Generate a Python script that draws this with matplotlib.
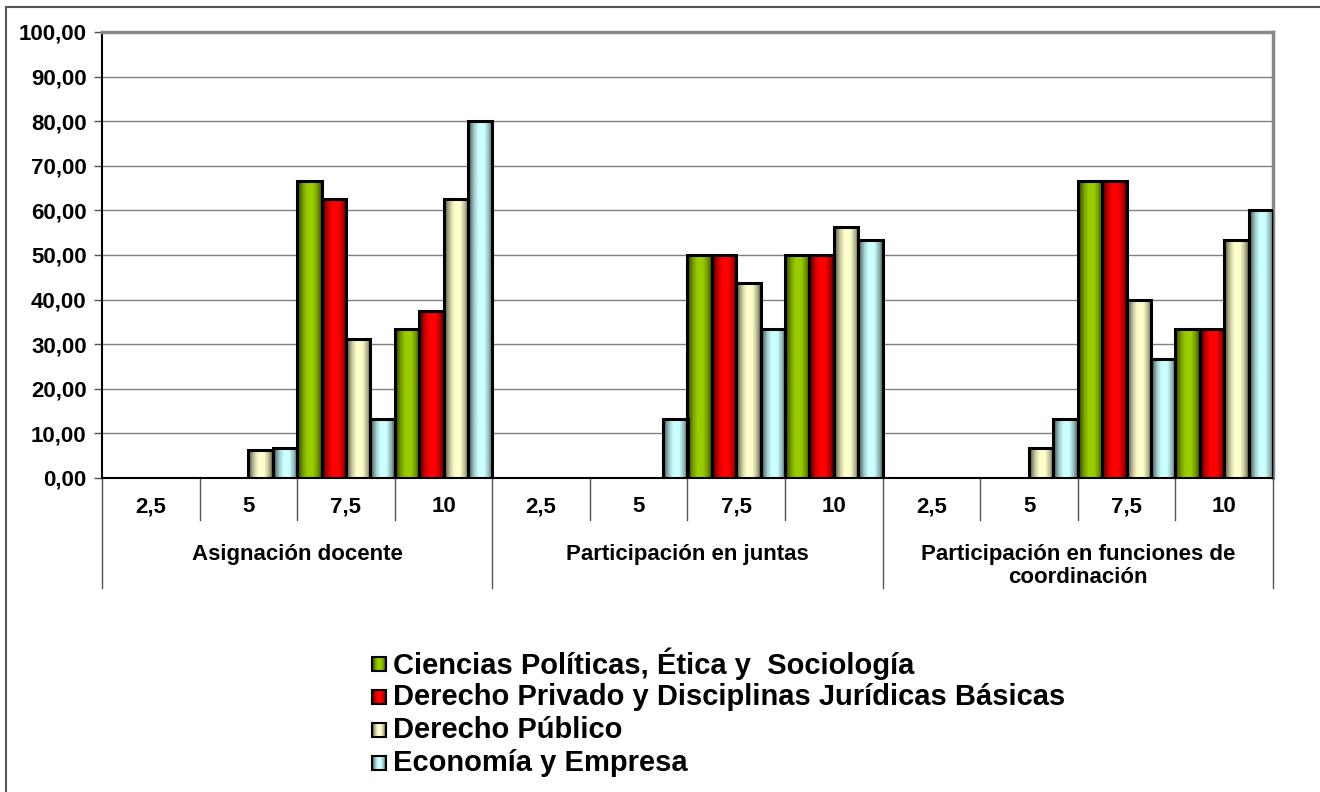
import numpy as np
import matplotlib.pyplot as plt
from matplotlib.colors import LinearSegmentedColormap, to_rgb
from matplotlib.patches import Rectangle
from matplotlib.lines import Line2D
import matplotlib.transforms as mtransforms

plt.rcParams['font.family'] = ['Liberation Sans', 'DejaVu Sans']
plt.rcParams['font.weight'] = 'bold'

# data
groups = ['Asignación docente', 'Participación en juntas',
          'Participación en funciones de\ncoordinación']
scores = ['2,5', '5', '7,5', '10']
series = ['Ciencias Políticas, Ética y  Sociología',
          'Derecho Privado y Disciplinas Jurídicas Básicas',
          'Derecho Público',
          'Economía y Empresa']
colors = ['#99CC00', '#FF0000', '#FFFFCC', '#CCFFFF']

ciencias = [0, 0, 66.67, 33.33,   0, 0, 50.00, 50.00,   0, 0, 66.67, 33.33]
privado  = [0, 0, 62.50, 37.50,   0, 0, 50.00, 50.00,   0, 0, 66.67, 33.33]
publico  = [0, 6.25, 31.25, 62.50, 0, 0, 43.75, 56.25,  0, 6.67, 40.00, 53.33]
economia = [0, 6.67, 13.33, 80.00, 0, 13.33, 33.33, 53.33, 0, 13.33, 26.67, 60.00]
values = [ciencias, privado, publico, economia]


def shade_cmap(c):
	# darker edges, bright middle (like the excel "tube" fill)
	r = np.array(to_rgb(c))
	return LinearSegmentedColormap.from_list(
		'g', [(0, r * 0.3), (0.1, r * 0.5), (0.25, r * 0.8), (0.42, r),
		      (0.65, r), (0.85, r * 0.72), (1, r * 0.35)])


fig = plt.figure(figsize=(13.2, 7.92), dpi=100)
ax = fig.add_axes([102 / 1320, 1 - 478 / 792, 1171 / 1320, 446 / 792])

ncat = len(groups) * len(scores)
x = np.arange(ncat)
w = 0.25
grad = np.linspace(0, 1, 64).reshape(1, -1)

def fill_gradient(target_ax, patch, c, **kw):
	x0, y0 = patch.get_x(), patch.get_y()
	im = target_ax.imshow(grad, cmap=shade_cmap(c), aspect='auto', zorder=3,
	                      extent=[x0, x0 + patch.get_width(), y0, y0 + patch.get_height()], **kw)
	im.set_clip_path(patch)

for i, (vals, c) in enumerate(zip(values, colors)):
	pos = x - 0.5 + w * (i + 0.5)
	bars = ax.bar(pos, vals, width=w, color=c, edgecolor='black', linewidth=2.2, zorder=3)
	for b, v in zip(bars, vals):
		if v <= 0:
			b.set_visible(False)
			continue
		fill_gradient(ax, b, c)
		b.set_facecolor('none')
		b.set_zorder(4)

ax.set_xlim(-0.5, ncat - 0.5)
ax.set_ylim(0, 100)
ax.set_yticks(np.arange(0, 101, 10))
ax.set_yticklabels([f'{v:.2f}'.replace('.', ',') for v in np.arange(0, 101, 10)],
                   fontsize=16, fontweight='bold')
ax.tick_params(axis='y', length=6, width=1, color='#555555', pad=5)
ax.grid(axis='y', color='#808080', linewidth=1, zorder=0)
ax.set_xticks([])

for s in ['top', 'right']:
	ax.spines[s].set_color('#888888')
	ax.spines[s].set_linewidth(2.5)
ax.spines['left'].set_color('black')
ax.spines['left'].set_linewidth(1.5)
ax.spines['bottom'].set_color('black')
ax.spines['bottom'].set_linewidth(1.5)

# multi-level category axis
trans = mtransforms.blended_transform_factory(ax.transData, ax.transAxes)
for k in range(ncat):
	ax.text(x[k], -29 / 446, scores[k % len(scores)], transform=trans,
	        ha='center', va='center', fontsize=16, fontweight='bold')
for k in range(ncat + 1):
	xb = k - 0.5
	if k % len(scores) == 0:
		ax.add_line(Line2D([xb, xb], [0, -110 / 446], transform=trans,
		                   color='#555555', lw=1, clip_on=False))
	else:
		ax.add_line(Line2D([xb, xb], [0, -42 / 446], transform=trans,
		                   color='#555555', lw=1, clip_on=False))
for g, name in enumerate(groups):
	xc = g * len(scores) + (len(scores) - 1) / 2
	ax.text(xc, -66 / 446, name, transform=trans, ha='center', va='top',
	        fontsize=16, fontweight='bold', linespacing=1.1)

# legend
lax = fig.add_axes([0, 0, 1, 1], zorder=-1)
lax.set_xlim(0, 1320)
lax.set_ylim(792, 0)
lax.axis('off')
for i, (name, c) in enumerate(zip(series, colors)):
	yc = 664 + 33 * i
	sq = Rectangle((372, yc - 7), 14, 14, facecolor='none', edgecolor='black',
	               linewidth=1.5, zorder=4)
	lax.add_patch(sq)
	lax.imshow(grad, cmap=shade_cmap(c), aspect='auto', zorder=3,
	           extent=[372, 386, yc + 7, yc - 7])
	lax.text(393, yc, name, fontsize=21, fontweight='bold', va='center', ha='left')

# outer chart border
lax.plot([6, 6], [792, 7], color='#555555', lw=1.5, clip_on=False)
lax.plot([6, 1320], [7, 7], color='#555555', lw=1.5, clip_on=False)

fig.savefig('out.png', dpi=100)
